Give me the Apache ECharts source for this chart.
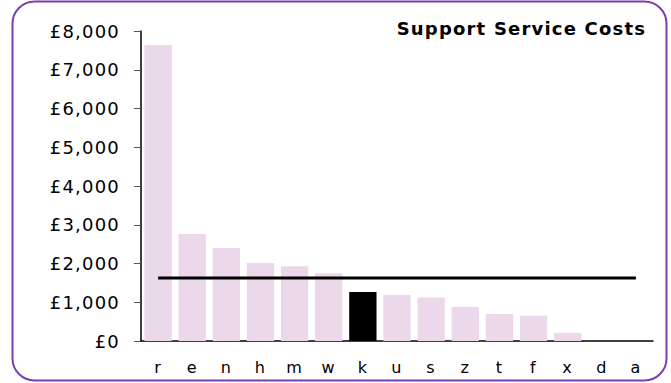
<!DOCTYPE html>
<html>
<head>
<meta charset="utf-8">
<script src="https://cdn.jsdelivr.net/npm/echarts@6/dist/echarts.min.js"></script>
<style>
  html, body { margin: 0; padding: 0; background: #fff; }
  #chart { width: 671px; height: 383px; }
  /* slightly open, Verdana-like tracking for the chart text */
  #chart svg text { letter-spacing: 1.2px; }
</style>
</head>
<body>
<div id="chart"></div>
<script>
// Support service cost per unit, ranked high to low
const categories = ['r', 'e', 'n', 'h', 'm', 'w', 'k', 'u', 's', 'z', 't', 'f', 'x', 'd', 'a'];
const costs = [7640, 2760, 2400, 2010, 1930, 1750, 1265, 1190, 1120, 880, 700, 655, 210, 0, 0];
const highlighted = 'k';
const averageCost = 1625;
const yTicks = [0, 1000, 2000, 3000, 4000, 5000, 6000, 7000, 8000];

const FONT = 'DejaVu Sans';
const chart = echarts.init(document.getElementById('chart'), null, { renderer: 'svg' });

const fmt = v => '£' + v.toLocaleString('en-GB');

chart.setOption({
  animation: false,
  backgroundColor: '#fff',
  graphic: [{
    type: 'rect',
    shape: { x: 12.5, y: 1.5, width: 654, height: 379, r: 22 },
    style: { fill: 'none', stroke: '#7B3FAB', lineWidth: 2 },
    z: -1
  }],
  title: {
    text: 'Support Service Costs',
    right: 45,
    top: 14,
    textStyle: { fontFamily: FONT, fontSize: 18, fontWeight: 'bold', color: '#000' }
  },
  grid: { left: 141, right: 18, top: 31, bottom: 42 },
  xAxis: {
    type: 'category',
    data: categories,
    axisLine: { lineStyle: { color: '#000', width: 1.5 } },
    axisTick: { show: false },
    axisLabel: { fontFamily: FONT, fontSize: 16, color: '#000', margin: 18 }
  },
  yAxis: {
    type: 'value',
    min: yTicks[0],
    max: yTicks[yTicks.length - 1],
    interval: yTicks[1] - yTicks[0],
    axisLine: { show: true, lineStyle: { color: '#000', width: 1.5 } },
    axisTick: { show: true, length: 7, lineStyle: { color: '#555' } },
    splitLine: { show: false },
    axisLabel: { fontFamily: FONT, fontSize: 18, color: '#000', margin: 21, formatter: fmt }
  },
  series: [
    {
      type: 'bar',
      barCategoryGap: '20%',
      data: costs.map((v, i) => ({
        value: v,
        itemStyle: { color: categories[i] === highlighted ? '#000' : '#EBD8EB' }
      }))
    },
    {
      type: 'line',
      data: categories.map(() => averageCost),
      symbol: 'none',
      lineStyle: { color: '#000', width: 3 },
      z: 5
    }
  ]
});
</script>
</body>
</html>
